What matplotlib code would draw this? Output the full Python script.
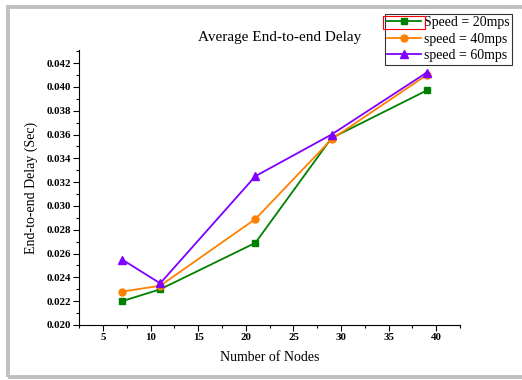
import numpy as np
import matplotlib
matplotlib.use('Agg')
import matplotlib.pyplot as plt
from matplotlib.patches import Rectangle
from matplotlib.ticker import MultipleLocator, FormatStrFormatter

# DATA

nodes = [7, 11, 21, 29, 39]
delay_20 = [0.0220, 0.0230, 0.0269, 0.0357, 0.0397]
delay_40 = [0.0228, 0.0233, 0.0289, 0.0356, 0.0410]
delay_60 = [0.0255, 0.0235, 0.0325, 0.0360, 0.0412]
labels = ['Speed = 20mps', 'speed = 40mps', 'speed = 60mps']

# PLOT

plt.rcParams['font.family'] = 'Liberation Serif'

W, H = 522, 380
fig = plt.figure(figsize=(W / 100, H / 100), dpi=100)
ax = fig.add_axes([79.3 / W, 1 - 325 / H, (460 - 79.3) / W, (325 - 50) / H])

ax.plot(nodes, delay_20, color='#008000', marker='s', markersize=5, lw=1.3, label=labels[0])
ax.plot(nodes, delay_40, color='#ff8000', marker='o', markersize=5, lw=1.3, label=labels[1])
ax.plot(nodes, delay_60, color='#8000ff', marker='^', markersize=6, lw=1.3, label=labels[2])

ax.set_xlim(2.5, 42.5)
ax.set_ylim(0.020, 0.0431)
ax.xaxis.set_major_locator(MultipleLocator(5))
ax.xaxis.set_minor_locator(MultipleLocator(2.5))
ax.yaxis.set_major_locator(MultipleLocator(0.002))
ax.yaxis.set_minor_locator(MultipleLocator(0.001))
ax.yaxis.set_major_formatter(FormatStrFormatter('%.3f'))
ax.spines['top'].set_visible(False)
ax.spines['right'].set_visible(False)
ax.tick_params(which='major', length=4, width=0.8, labelsize=7.8, pad=2)
ax.tick_params(which='minor', length=2.5, width=0.8)
for lab in ax.get_xticklabels() + ax.get_yticklabels():
    lab.set_fontweight('bold')

ax.set_xlabel('Number of Nodes', fontsize=10, labelpad=6)
ax.set_ylabel('End-to-end Delay (Sec)', fontsize=10, labelpad=6)
fig.text(280 / W, 1 - 37 / H, 'Average End-to-end Delay', fontsize=11,
         ha='center', va='center')

leg = fig.legend(loc='upper right', bbox_to_anchor=(512 / W, 1 - 13.5 / H),
                 fontsize=10, frameon=True, fancybox=False, handlelength=2.4,
                 handletextpad=0.2, borderpad=0.2, labelspacing=0.25,
                 borderaxespad=0)
leg.get_frame().set_edgecolor('black')
leg.get_frame().set_linewidth(0.8)

# red box round the first legend handle
fig.canvas.draw()
renderer = fig.canvas.get_renderer()
hb = leg.get_lines()[0].get_window_extent(renderer)
tb = leg.get_texts()[0].get_window_extent(renderer)
x0, x1 = hb.x0 - 1, hb.x1 + 1
y0, y1 = tb.y0, tb.y1
fig.patches.append(Rectangle((x0 / W, y0 / H), (x1 - x0) / W, (y1 - y0) / H,
                             transform=fig.transFigure, fill=False,
                             edgecolor='red', lw=0.8, zorder=10))

# grey outer frame
fig.patches.append(Rectangle((8 / W, 1 - 377 / H), 600 / W, 370 / H,
                             transform=fig.transFigure, fill=False,
                             edgecolor='#c0c0c0', lw=2.8, zorder=0))

fig.savefig('out.png', dpi=100)
